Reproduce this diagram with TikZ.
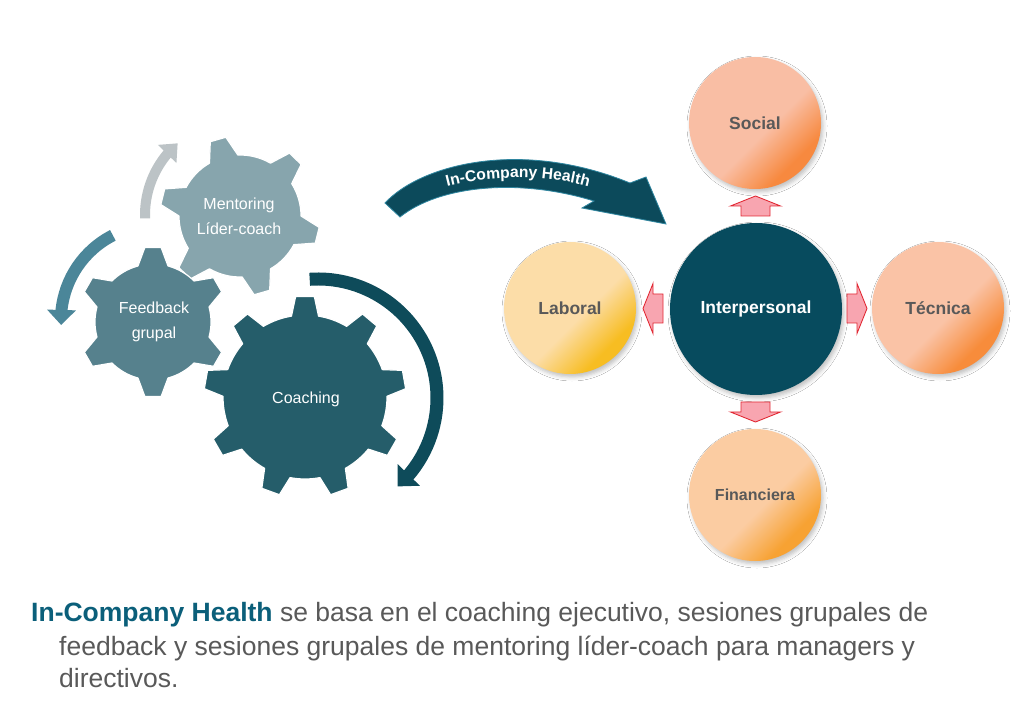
\documentclass[tikz,border=0pt]{standalone}
\usepackage{fontspec}
\setmainfont{Liberation Sans}
\usetikzlibrary{arrows.meta,bending,calc,decorations.text,shadows.blur}

\definecolor{gearM}{HTML}{87A5AD}
\definecolor{gearF}{HTML}{56818D}
\definecolor{gearC}{HTML}{255D6A}
\definecolor{arrGrey}{HTML}{BCC3C6}
\definecolor{arrBlue}{HTML}{4B8699}
\definecolor{arrDark}{HTML}{0E4B5A}
\definecolor{bigTeal}{HTML}{0C4A5B}
\definecolor{bigEdge}{HTML}{2F86A0}
\definecolor{interp}{HTML}{074B5E}
\definecolor{lblGray}{HTML}{595959}
\definecolor{socL}{HTML}{F9BEA4}
\definecolor{socD}{HTML}{F7893F}
\definecolor{tecL}{HTML}{FAC3A6}
\definecolor{tecD}{HTML}{F78C3B}
\definecolor{labL}{HTML}{FCDDA8}
\definecolor{labD}{HTML}{F7BD22}
\definecolor{finL}{HTML}{FBCCA2}
\definecolor{finD}{HTML}{F7A233}
\definecolor{pinkA}{HTML}{F8A5B0}
\definecolor{redE}{HTML}{E22B36}
\definecolor{brand}{HTML}{0B5F7A}
\definecolor{bodyGray}{HTML}{595959}

\pgfdeclarehorizontalshading{socsh}{100bp}{color(0bp)=(socL); color(55bp)=(socL); color(71bp)=(socD); color(100bp)=(socD)}
\pgfdeclarehorizontalshading{tecsh}{100bp}{color(0bp)=(tecL); color(55bp)=(tecL); color(71bp)=(tecD); color(100bp)=(tecD)}
\pgfdeclarehorizontalshading{labsh}{100bp}{color(0bp)=(labL); color(55bp)=(labL); color(71bp)=(labD); color(100bp)=(labD)}
\pgfdeclarehorizontalshading{finsh}{100bp}{color(0bp)=(finL); color(55bp)=(finL); color(71bp)=(finD); color(100bp)=(finD)}

% #1 style, #2 center, #3 teeth, #4 first tooth angle, #5 root radius, #6 tip radius, #7 base half-angle, #8 tip half-angle
\newcommand{\mygear}[8]{%
  \pgfmathsetmacro\gp{360/#3}%
  \pgfmathtruncatemacro\gm{#3-1}%
  \draw[#1, shift={#2}] ({#4-\gp+#7}:#5)
    \foreach \i in {0,...,\gm} {
      arc[start angle={#4+(\i-1)*\gp+#7}, end angle={#4+\i*\gp-#7}, radius=#5]
      -- ({#4+\i*\gp-#8}:#6) -- ({#4+\i*\gp+#8}:#6) -- ({#4+\i*\gp+#7}:#5)
    } -- cycle;
}

\begin{document}
\begin{tikzpicture}[x=1pt,y=1pt,
  gearbody/.style={draw=white, line width=1.2pt, line join=round},
  geartext/.style={text=white, align=center, font=\fontsize{16}{25}\selectfont, inner sep=0},
  circshadow/.style={blur shadow={shadow xshift=2pt, shadow yshift=-3pt, shadow blur radius=4pt, shadow opacity=25}},
  circ/.style={circle, inner sep=0, minimum size=132pt, shade, shading angle=-45, circshadow,
     text=lblGray, font=\bfseries\fontsize{17.5}{20}\selectfont},
  bodytext/.style={anchor=base west, inner sep=0, text=bodyGray, font=\fontsize{26.5}{33}\selectfont},
  redarrow/.pic={\draw[fill=pinkA, draw=redE, line width=0.9pt, line join=miter]
     (-10,-14.5) -- (0,-14.5) -- (0,-25) -- (10,0) -- (0,25) -- (0,14.5) -- (-10,14.5) -- cycle;}
]
\useasboundingbox[fill=white] (0,0) rectangle (1021,-719);

% ---- arrows around the gears
\draw[arrGrey, line width=10pt, -{Triangle[width=25pt,length=15pt]}, shift={(240,-215)}]
  (182:95) arc[start angle=182, end angle=131, radius=95];
\draw[arrBlue, line width=12pt, -{Triangle[width=28pt,length=15pt]}, shift={(156,-320)}]
  (117:95) arc[start angle=117, end angle=183, radius=95];
\draw[arrDark, line width=13pt, -{Triangle[width=30pt,length=16pt]}, shift={(318,-398)}]
  (94:119) arc[start angle=94, end angle=-48, radius=119];

% ---- gears
\mygear{gearbody, fill=gearM}{(240,-216)}{6}{106}{61}{80}{14}{5.8}
\mygear{gearbody, fill=gearF}{(153,-322)}{6}{90}{58}{75}{15}{6.2}
\mygear{gearbody, fill=gearC}{(305,-397)}{9}{90}{82}{101}{9.5}{5.3}

\node[geartext] (mentor) at (239,-216) {Mentoring\\Líder-coach};
\node[geartext] (feedback) at (154,-322) {Feedback\\grupal};
\node[geartext] (coach) at (306,-399) {Coaching};

% ---- big curved arrow
\fill[bigTeal, draw=bigEdge, line width=0.8pt, line join=miter]
  (385,-203) .. controls (420,-165) and (520,-138) .. (630,-183)
  -- (646,-177) -- (666,-224) -- (582,-208) -- (594,-201)
  .. controls (520,-178) and (440,-185) .. (400,-217) -- cycle;
\path[decorate, decoration={text along path, text align=center,
   text={|\bfseries\fontsize{15.7}{16}\selectfont\color{white}|In-Company Health}}]
  (405,-203) .. controls (460,-170) and (575,-168) .. (630,-205);

% ---- circles
\node[circle, inner sep=0, minimum size=172pt, fill=interp, circshadow, text=white,
      font=\bfseries\fontsize{17.5}{20}\selectfont] (inter) at (756,-309) {Interpersonal};
\node[circ, shading=socsh] (social) at (755,-123) {Social};
\node[circ, shading=labsh] (laboral) at (570,-308) {Laboral};
\node[circ, shading=tecsh] (tecnica) at (938,-308) {Técnica};
\node[circ, shading=finsh, font=\bfseries\fontsize{16}{20}\selectfont] (financiera) at (755,-495) {Financiera};

% ---- red block arrows
\pic[rotate=90] at ($(inter.north)!0.5!(social.south)$) {redarrow};
\pic[rotate=-90] at ($(inter.south)!0.5!(financiera.north)$) {redarrow};
\pic[rotate=180] at ($(inter.west)!0.5!(laboral.east)$) {redarrow};
\pic at ($(inter.east)!0.5!(tecnica.west)$) {redarrow};

% ---- bottom text
\node[bodytext] (line1) at (31,-621) {\textcolor{brand}{\bfseries In-Company Health} se basa en el coaching ejecutivo, sesiones grupales de};
\node[bodytext] (line2) at (59,-655) {feedback y sesiones grupales de mentoring líder-coach para managers y};
\node[bodytext] (line3) at (59,-687) {directivos.};
\end{tikzpicture}
\end{document}
